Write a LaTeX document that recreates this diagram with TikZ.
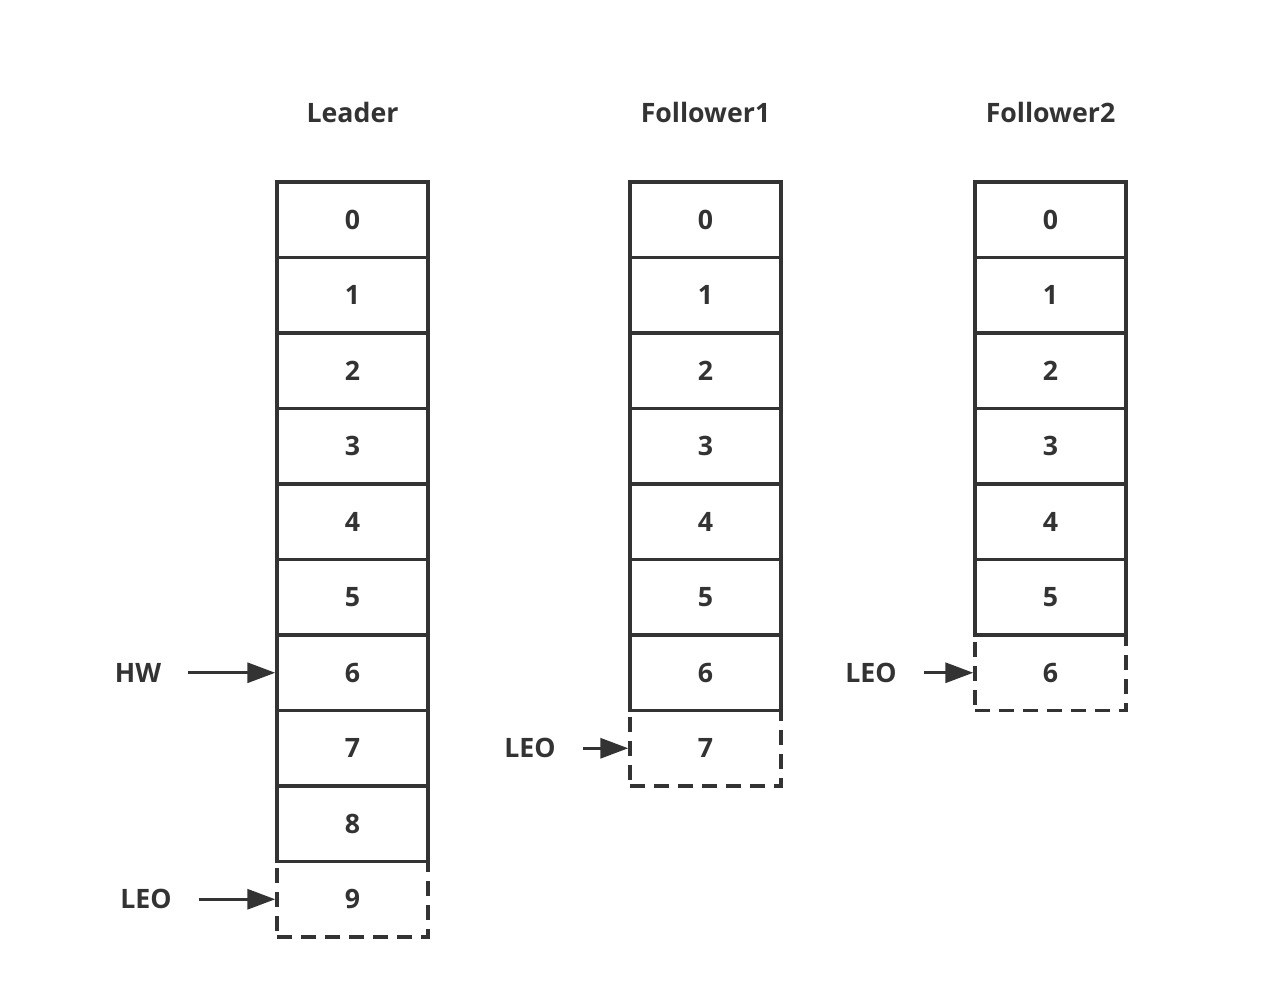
\documentclass[tikz,border=0pt]{standalone}
\usepackage{fontspec}
\setsansfont{Open Sans}
\usetikzlibrary{arrows.meta}
\definecolor{ink}{HTML}{333333}
\tikzset{
    txt/.style={text=ink, font=\sffamily\bfseries\fontsize{15.2}{18}\selectfont},
    cell/.style={txt, draw=ink, line width=0.07cm, minimum width=3.02cm,
        minimum height=1.51cm, inner sep=0pt},
    dcell/.style={cell, dash pattern=on 0.3cm off 0.18cm},
    tag/.style={txt, inner xsep=0.54cm},
    ptr/.style={draw=ink, line width=0.065cm, -{Triangle[length=0.56cm,width=0.4cm]}}
}
\begin{document}
\begin{tikzpicture}[x=0.02cm,y=-0.02cm]
    \useasboundingbox (0,0) rectangle (1278,998);
    \def\h{75.5}
    \def\ytop{182}
    \def\xl{352.5}
    \def\xfa{705.5}
    \def\xfb{1050.5}

    % Leader
    \node[txt] (ldr) at (\xl,112) {Leader};
    \foreach \i in {0,...,8}
        \node[cell] (L\i) at (\xl,{\ytop+\h*(\i+0.5)}) {\i};
    \node[dcell] (L9) at (\xl,{\ytop+\h*9.5}) {9};

    % Follower1
    \node[txt] (fa) at (\xfa,112) {Follower1};
    \foreach \i in {0,...,6}
        \node[cell] (A\i) at (\xfa,{\ytop+\h*(\i+0.5)}) {\i};
    \node[dcell] (A7) at (\xfa,{\ytop+\h*7.5}) {7};

    % Follower2
    \node[txt] (fb) at (\xfb,112) {Follower2};
    \foreach \i in {0,...,5}
        \node[cell] (B\i) at (\xfb,{\ytop+\h*(\i+0.5)}) {\i};
    \node[dcell] (B6) at (\xfb,{\ytop+\h*6.5}) {6};

    \node[tag] (hw) at (138,{\ytop+\h*6.5}) {HW};
    \node[tag] (leol) at (146,{\ytop+\h*9.5}) {LEO};
    \node[tag] (leoa) at (530,{\ytop+\h*7.5}) {LEO};
    \node[tag] (leob) at (871,{\ytop+\h*6.5}) {LEO};
    \draw[ptr] (hw) -- (L6.west);
    \draw[ptr] (leol) -- (L9.west);
    \draw[ptr] (leoa) -- (A7.west);
    \draw[ptr] (leob) -- (B6.west);
\end{tikzpicture}
\end{document}
